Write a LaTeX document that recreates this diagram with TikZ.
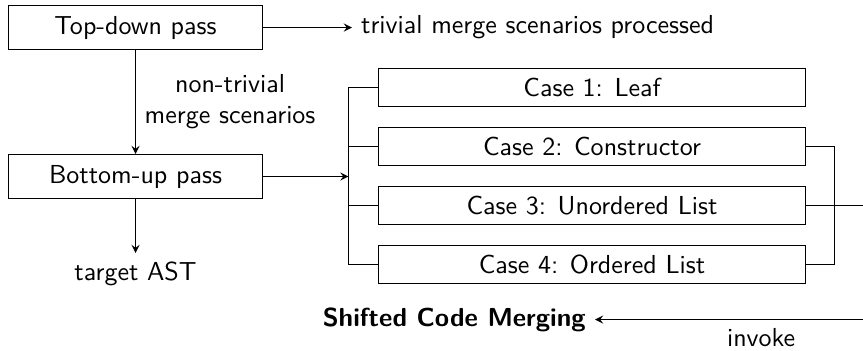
\documentclass[tikz,border=0pt]{standalone}
\begin{document}
\begin{tikzpicture}[font=\sffamily,
  passbox/.style={shape=rectangle, draw=black, minimum width=3.43cm, minimum height=0.594cm},
  casebox/.style={shape=rectangle, draw=black, minimum width=5.78cm, minimum height=0.513cm}]
\useasboundingbox (0,0) rectangle (11.659,-4.729);
\node[passbox] (TD) at (1.831,-0.372) {Top-down pass};
\node[passbox] (BU) at (1.831,-2.3845) {Bottom-up pass};
\node[anchor=west] (TM) at (4.755,-0.372) {trivial merge scenarios processed};
\node[anchor=north] (AST) at (1.831,-3.418) {target AST};
\node[casebox] (C1) at (7.998,-1.182) {Case 1: Leaf};
\node[casebox] (C2) at (7.998,-1.979) {Case 2: Constructor};
\node[casebox] (C3) at (7.998,-2.776) {Case 3: Unordered List};
\node[casebox] (C4) at (7.998,-3.573) {Case 4: Ordered List};
\node[anchor=east, font=\sffamily\bfseries] (SCM) at (8.038,-4.3165) {Shifted Code Merging};
\coordinate (LJ) at (4.708,-2.3845);
\coordinate (RJ) at (11.274,-2.776);
\coordinate (out) at (11.659,-2.776);
\coordinate (back) at (11.659,-4.3165);
\path (TD) edge [-stealth] (TM);
\path (TD) edge [-stealth] node[right, align=center] {non-trivial\\merge scenarios} (BU);
\path (BU) edge [-stealth] (AST);
\path (BU) edge [-stealth] (LJ);
\draw (LJ) |- (C1.west);
\draw (LJ) |- (C2.west);
\draw (LJ) |- (C3.west);
\draw (LJ) |- (C4.west);
\draw (C2.east) -| (RJ);
\draw (C4.east) -| (RJ);
\draw (C3.east) -- (out);
\path (back) edge [-stealth] node[below, pos=0.38] {invoke} (SCM);
\end{tikzpicture}
\end{document}
